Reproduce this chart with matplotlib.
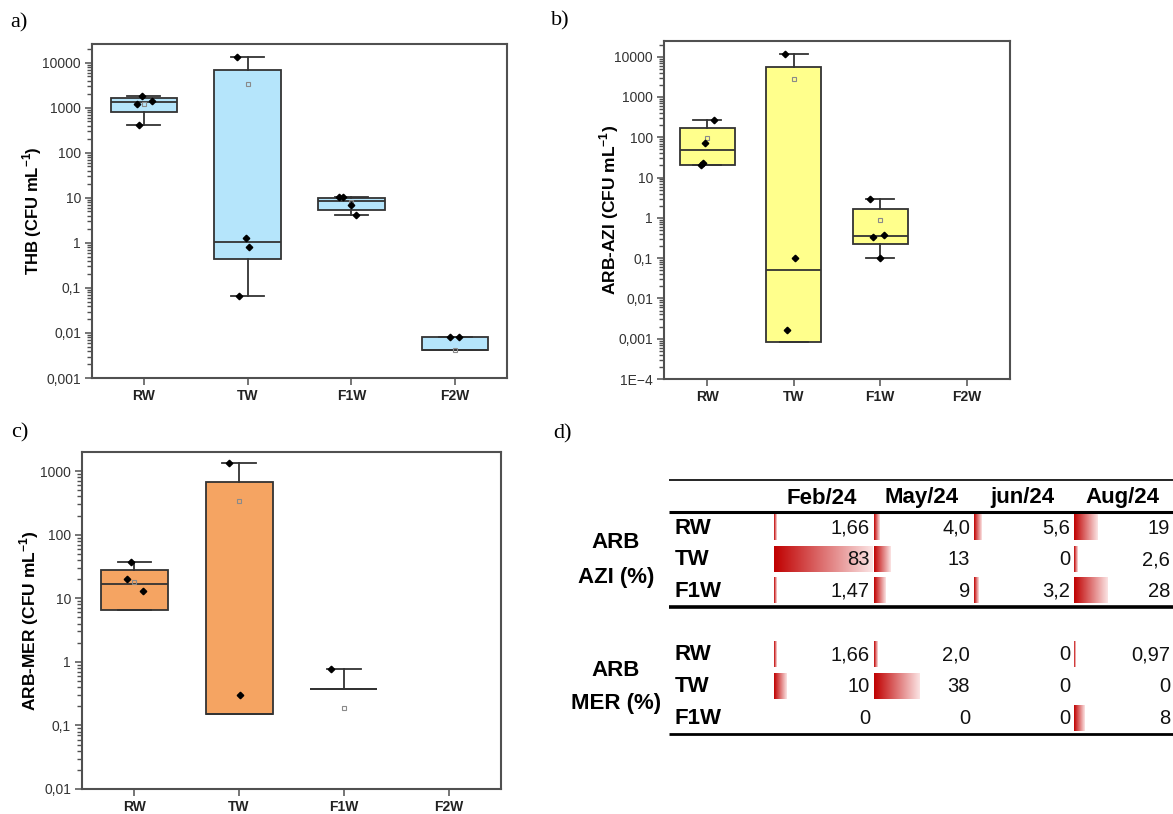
import numpy as np
import matplotlib
matplotlib.use('Agg')
import matplotlib.pyplot as plt
from matplotlib.ticker import FixedLocator, NullFormatter
from matplotlib.colors import LinearSegmentedColormap

plt.rcParams['font.family'] = ['Liberation Sans', 'DejaVu Sans']
plt.rcParams['mathtext.fontset'] = 'custom'
plt.rcParams['mathtext.rm'] = 'Liberation Sans'
plt.rcParams['mathtext.bf'] = 'Liberation Sans:bold'

groups = ['RW', 'TW', 'F1W', 'F2W']

# a) THB - box stats
thb_q1 = [810, 0.44, 5.5, 0.0041]
thb_med = [1340, 1.05, 8.5, 0.0041]
thb_q3 = [1620, 6900, 10.2, 0.0080]
thb_lo = [420, 0.065, 4.1, 0.0041]
thb_hi = [1850, 13800, 10.5, 0.0080]
thb_mean = [1240, 3470, 8.0, 0.0041]
thb_pts = [[1850, 1230, 1450, 420], [13800, 1.3, 0.81, 0.065],
           [10.5, 10.5, 6.9, 4.1], [0.008, 0.008]]
thb_jit = [[-0.02, -0.07, 0.08, -0.05], [-0.10, -0.02, 0.01, -0.08],
           [-0.12, -0.08, 0.0, 0.04], [-0.05, 0.04]]

# b) ARB-AZI (no F2W data)
azi_q1 = [21, 0.00084, 0.22]
azi_med = [49, 0.051, 0.36]
azi_q3 = [170, 5500, 1.62]
azi_lo = [20.4, 0.00084, 0.1]
azi_hi = [268, 11400, 2.9]
azi_mean = [95, 2760, 0.91]
azi_pts = [[265, 73, 23, 20], [11400, 0.1, 0.00166], [2.9, 0.33, 0.37, 0.1]]
azi_jit = [[0.08, -0.03, -0.05, -0.07], [-0.10, 0.015, -0.08],
           [-0.12, -0.08, 0.04, 0.0]]

# c) ARB-MER (no F2W data)
mer_q1 = [6.6, 0.15, 0.38]
mer_med = [16.6, 0.15, 0.38]
mer_q3 = [28, 674, 0.38]
mer_lo = [6.6, 0.15, 0.38]
mer_hi = [37, 1350, 0.77]
mer_mean = [17.8, 333, 0.19]
mer_pts = [[37, 20, 13.2], [1350, 0.30], [0.77]]
mer_jit = [[-0.03, -0.07, 0.08], [-0.10, 0.01], [-0.12]]

# d) table of percentages
months = ['Feb/24', 'May/24', 'jun/24', 'Aug/24']
sites = ['RW', 'TW', 'F1W']
azi_pct = [[1.66, 4.0, 5.6, 19], [83, 13, 0, 2.6], [1.47, 9, 3.2, 28]]
azi_txt = [['1,66', '4,0', '5,6', '19'], ['83', '13', '0', '2,6'], ['1,47', '9', '3,2', '28']]
mer_pct = [[1.66, 2.0, 0, 0.97], [10, 38, 0, 0], [0, 0, 0, 8]]
mer_txt = [['1,66', '2,0', '0', '0,97'], ['10', '38', '0', '0'], ['0', '0', '0', '8']]

W, H = 1173, 814
EDGE = '#333333'
SPINE = '#505050'

fig = plt.figure(figsize=(W / 100, H / 100), dpi=100)


def px_axes(left, top, right, bottom, **kw):
    return fig.add_axes([left / W, 1 - bottom / H, (right - left) / W, (bottom - top) / H], **kw)


# table axes in pixel units, drawn first (under the plots)
tab = px_axes(0, 0, W, H)
tab.set_xlim(0, W)
tab.set_ylim(H, 0)
tab.axis('off')


def box_panel(ax, q1, med, q3, lo, hi, mean, pts, jit, face, ylim, ticks, labels,
              ylabel, lsize, lpad):
    stats = [dict(q1=a, med=b, q3=c, whislo=d, whishi=e, fliers=[])
             for a, b, c, d, e in zip(q1, med, q3, lo, hi)]
    pos = np.arange(1, len(stats) + 1)
    ax.set_yscale('log')
    lp = dict(color=EDGE, linewidth=1.3)
    ax.bxp(stats, positions=pos, widths=0.64, capwidths=0.32, patch_artist=True,
           showfliers=False, manage_ticks=False,
           boxprops=dict(facecolor=face, edgecolor=EDGE, linewidth=1.3),
           medianprops=lp, whiskerprops=lp, capprops=lp)
    ax.plot(pos, mean, ls='none', marker='s', ms=3.3, mfc='none', mec='#8a8a8a',
            mew=0.8, zorder=4)
    for p, vals, jj in zip(pos, pts, jit):
        ax.plot(p + np.array(jj), vals, ls='none', marker='D', ms=3.3,
                color='black', zorder=5)
    ax.set_xlim(0.5, 4.5)
    ax.set_ylim(*ylim)
    ax.set_xticks(range(1, 5))
    ax.set_xticklabels(groups, fontweight='bold', fontsize=10, color='#222222')
    ax.yaxis.set_major_locator(FixedLocator(ticks))
    ax.set_yticklabels(labels, fontsize=10, color='#333333')
    minors = [d * k for d in ticks[:-1] for k in range(2, 10)]
    minors += [ticks[-1] * k for k in range(2, 10) if ticks[-1] * k < ylim[1]]
    ax.yaxis.set_minor_locator(FixedLocator(minors))
    ax.yaxis.set_minor_formatter(NullFormatter())
    ax.tick_params(axis='both', which='major', direction='out', length=5, width=1.1,
                   color=SPINE, pad=3)
    ax.tick_params(axis='y', which='minor', direction='out', length=3.5, width=1.0,
                   color=SPINE)
    ax.tick_params(axis='x', which='minor', bottom=False)
    for s in ax.spines.values():
        s.set_color(SPINE)
        s.set_linewidth(1.5)
    ax.set_ylabel(ylabel, fontsize=lsize, fontweight='bold', labelpad=lpad)


ax_a = px_axes(92, 44, 507, 378)
box_panel(ax_a, thb_q1, thb_med, thb_q3, thb_lo, thb_hi, thb_mean, thb_pts, thb_jit,
          '#B5E5FB', (1e-3, 10 ** 4.42),
          [1e-3, 1e-2, 1e-1, 1, 10, 100, 1000, 10000],
          ['0,001', '0,01', '0,1', '1', '10', '100', '1000', '10000'],
          r'THB (CFU mL$^{\mathbf{-1}}$)', 12, -1)

ax_b = px_axes(664, 41, 1010, 379)
box_panel(ax_b, azi_q1, azi_med, azi_q3, azi_lo, azi_hi, azi_mean, azi_pts, azi_jit,
          '#FFFF8C', (1e-4, 10 ** 4.39),
          [1e-4, 1e-3, 1e-2, 1e-1, 1, 10, 100, 1000, 10000],
          ['1E\u22124', '0,001', '0,01', '0,1', '1', '10', '100', '1000', '10000'],
          r'ARB-AZI (CFU mL$^{\mathbf{-1}}$)', 12.5, -4.5)

ax_c = px_axes(82, 452, 501, 789)
box_panel(ax_c, mer_q1, mer_med, mer_q3, mer_lo, mer_hi, mer_mean, mer_pts, mer_jit,
          '#F5A462', (1e-2, 10 ** 3.3),
          [1e-2, 1e-1, 1, 10, 100, 1000],
          ['0,01', '0,1', '1', '10', '100', '1000'],
          r'ARB-MER (CFU mL$^{\mathbf{-1}}$)', 12.5, -1)

# panel letters
for lab, x, y in [('a)', 10, 23), ('b)', 551, 21), ('c)', 11, 433), ('d)', 553, 434)]:
    fig.text(x / W, 1 - y / H, lab, family='Liberation Serif', fontsize=16,
             ha='left', va='center')

# ---- d) table ----
col_x0, col_pitch, col_w = 774, 100, 96
px_per_pct = 98 / 83
bar_h = 26
bar_cmap = LinearSegmentedColormap.from_list('xlbar', ['#C00000', '#FBE4E4'])
grad = np.linspace(0, 1, 256).reshape(1, -1)
line_l, line_r = 669, W

tab.hlines([480], line_l, line_r, color='black', lw=1.2)
tab.hlines([512], line_l, line_r, color='black', lw=2.2)
tab.hlines([606.5], line_l, line_r, color='black', lw=2.6)
tab.hlines([734], line_l, line_r, color='black', lw=2.0)

for j, m in enumerate(months):
    tab.text(col_x0 + j * col_pitch + col_w / 2, 498, m, ha='center', va='center',
             fontsize=16, fontweight='bold')


def table_block(y0, pitch, pct, txt, name1, name2, ya, yb):
    tab.text(616, ya, name1, ha='center', va='center', fontsize=16, fontweight='bold')
    tab.text(616, yb, name2, ha='center', va='center', fontsize=16, fontweight='bold')
    for i, site in enumerate(sites):
        y = y0 + i * pitch
        tab.text(675, y + 1, site, ha='left', va='center', fontsize=16, fontweight='bold')
        for j in range(len(months)):
            x0 = col_x0 + j * col_pitch
            v = pct[i][j]
            if v > 0:
                length = 0.8 + v * px_per_pct
                rect = tab.barh(y, length, left=x0, height=bar_h, color='#C00000',
                                linewidth=0, zorder=1)[0]
                im = tab.imshow(grad, cmap=bar_cmap, aspect='auto', interpolation='bilinear',
                                extent=(x0, x0 + length, y + bar_h / 2, y - bar_h / 2),
                                zorder=2)
                im.set_clip_path(rect)
            tab.text(x0 + col_w, y + 1, txt[i][j], ha='right', va='center',
                     fontsize=14.5, color='#111111', zorder=3)


table_block(527, 31.7, azi_pct, azi_txt, 'ARB', 'AZI (%)', 543, 578)
table_block(654, 32, mer_pct, mer_txt, 'ARB', 'MER (%)', 671, 703)

tab.set_xlim(0, W)
tab.set_ylim(H, 0)

fig.savefig('out.png', dpi=100)
